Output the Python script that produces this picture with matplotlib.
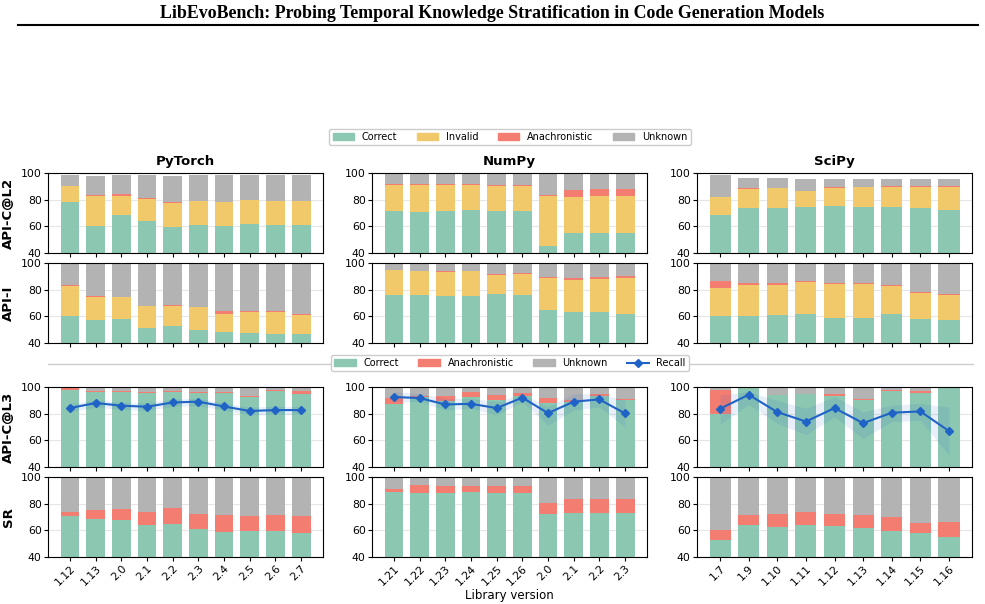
import numpy as np
import matplotlib
matplotlib.use("Agg")
import matplotlib.pyplot as plt
from matplotlib.lines import Line2D
from matplotlib.patches import Patch

libs = ["PyTorch", "NumPy", "SciPy"]
versions = {
    "PyTorch": ["1.12", "1.13", "2.0", "2.1", "2.2", "2.3", "2.4", "2.5", "2.6", "2.7"],
    "NumPy": ["1.21", "1.22", "1.23", "1.24", "1.25", "1.26", "2.0", "2.1", "2.2", "2.3"],
    "SciPy": ["1.7", "1.9", "1.10", "1.11", "1.12", "1.13", "1.14", "1.15", "1.16"],
}
row_names = ["API-C@L2", "API-I", "API-C@L3", "SR"]

# API-C@L2 : cumulative tops (correct, +invalid, +anachronistic, +unknown)
l2_correct = {
    "PyTorch": [78, 60, 68.2, 64.2, 59.2, 60.8, 60.2, 61.8, 60.8, 60.8],
    "NumPy": [71.2, 71, 71.8, 72, 71.8, 71.8, 45.5, 54.8, 54.8, 54.8],
    "SciPy": [68.2, 73.8, 73.8, 74.2, 75, 74.2, 74.2, 73.5, 72.5],
}
l2_invalid_top = {
    "PyTorch": [90, 82.5, 83, 80.2, 77.2, 78.8, 78.2, 79.5, 78.8, 78.8],
    "NumPy": [90.8, 90.8, 90.8, 91.2, 90.5, 90.5, 82.5, 82, 83, 83],
    "SciPy": [81.8, 87.8, 88.5, 86.2, 88.5, 89.2, 89.2, 89.2, 89.2],
}
l2_anach_top = {
    "PyTorch": [90.3, 83.8, 84, 81, 78, 79.3, 78.5, 79.8, 79.1, 79.1],
    "NumPy": [91.5, 91.5, 91.5, 91.8, 91, 91, 83.2, 87.5, 88, 88],
    "SciPy": [82.2, 88.5, 89, 86.8, 89.2, 89.8, 90, 90, 90],
}
l2_total = {
    "PyTorch": [98.8, 98, 98.8, 98.8, 98, 98.8, 98.8, 98.8, 98.8, 98.8],
    "NumPy": [100, 100, 100, 100, 100, 100, 100, 100, 100, 100],
    "SciPy": [98.8, 96.5, 96.5, 95.8, 95.8, 95.8, 95.8, 95.8, 95.8],
}

# API-I
ai_correct = {
    "PyTorch": [60, 57.5, 58.2, 51.5, 53, 50, 48.5, 47.8, 46.5, 46.5],
    "NumPy": [75.8, 75.8, 75, 75.5, 76.5, 75.8, 65, 63.5, 63, 61.8],
    "SciPy": [60.5, 60.5, 61.2, 61.5, 58.5, 59, 62, 58.2, 57],
}
ai_invalid_top = {
    "PyTorch": [83, 74.8, 74.2, 67.5, 67.5, 66.8, 62, 63.5, 63.5, 60.8],
    "NumPy": [94.5, 93.8, 93.5, 93.8, 91.2, 92, 89, 87.5, 88.2, 89],
    "SciPy": [81.5, 83.8, 83.8, 86, 84.5, 84.5, 83, 77.8, 75.8],
}
ai_anach_top = {
    "PyTorch": [83.8, 75.2, 74.8, 68, 68.2, 67.2, 64.2, 64, 64, 61.5],
    "NumPy": [95, 94.2, 94.2, 94.2, 92, 92.8, 89.8, 88.8, 89.8, 90],
    "SciPy": [86.2, 85.2, 85.2, 86.8, 85, 85, 83.8, 78.5, 76.5],
}

# API-C@L3 : correct, +anachronistic, +unknown (to 100) and recall with band
l3_correct = {
    "PyTorch": [97.8, 96.5, 96.5, 95.8, 96.5, 95.8, 95.8, 92.8, 97.2, 94.8],
    "NumPy": [87.2, 92.2, 89.5, 92.7, 90.2, 93.5, 88.2, 88.4, 93.5, 90.5],
    "SciPy": [79.6, 100, 94, 94.7, 93.5, 90.5, 97.2, 95.7, 99.8],
}
l3_anach_top = {
    "PyTorch": [99.2, 97.2, 96.8, 96, 97.2, 96, 96.5, 93, 97.5, 97],
    "NumPy": [92, 93.5, 93.2, 96, 94.2, 95.5, 91.5, 90.2, 94.5, 91],
    "SciPy": [97.5, 100, 94.2, 95, 95, 90.7, 97.5, 97, 99.8],
}
recall = {
    "PyTorch": [84.2, 88, 86, 85.2, 88.4, 89, 85.4, 82, 82.7, 82.7],
    "NumPy": [92.5, 91.7, 86.9, 87.4, 84.2, 92, 80.4, 89, 90.7, 80.2],
    "SciPy": [83.7, 94.2, 81.2, 74.1, 84.2, 72.9, 80.7, 81.7, 67],
}
recall_lo = {
    "PyTorch": [81.5, 85, 83, 82.5, 85.5, 86, 82.5, 79, 79.5, 79.5],
    "NumPy": [89, 89, 82.7, 84, 79, 89, 71.4, 82.7, 85, 70],
    "SciPy": [72, 87, 72.6, 64.3, 77.6, 61.3, 74, 75, 48.7],
}
recall_hi = {
    "PyTorch": [87, 90.5, 88.5, 88, 91, 91.5, 88, 85, 85.5, 85.5],
    "NumPy": [96.5, 95, 91.5, 91.5, 89, 95, 85.2, 95, 95, 90],
    "SciPy": [94, 96.5, 90, 84, 92.7, 81.4, 86.4, 87.7, 85],
}

# SR : correct, +anachronistic, +unknown (to 100)
sr_correct = {
    "PyTorch": [70.5, 68.5, 67.5, 63.8, 64.5, 60.8, 58.8, 59.5, 59.5, 57.8],
    "NumPy": [88.5, 88, 88, 88.5, 88, 88, 72, 72.8, 72.8, 72.8],
    "SciPy": [52.5, 63.8, 62.5, 63.8, 63, 61.5, 59.5, 58.2, 55],
}
sr_anach_top = {
    "PyTorch": [73.8, 75.5, 76.2, 73.8, 76.5, 72.2, 71.2, 70.8, 71.8, 70.8],
    "NumPy": [90.8, 93.8, 93.2, 93.2, 93, 93, 80.5, 83.5, 83.5, 83.5],
    "SciPy": [60, 71.8, 72, 73.5, 72, 71.2, 69.8, 65.8, 66],
}

c_correct = "#8cc7b1"
c_invalid = "#f1c96a"
c_anach = "#f47d72"
c_unknown = "#b3b3b3"
c_recall = "#1f63c6"

W, H = 985, 604
fig = plt.figure(figsize=(W / 100, H / 100), dpi=100)

fig.text(0.5, 1 - 13 / H,
         "LibEvoBench: Probing Temporal Knowledge Stratification in Code Generation Models",
         ha="center", va="center", fontsize=12.9, fontweight="bold",
         family="Liberation Serif")
fig.add_artist(Line2D([18 / W, 978 / W], [1 - 25 / H] * 2, color="black", lw=1.5))
fig.add_artist(Line2D([48 / W, 973 / W], [1 - 364 / H] * 2, color="#cccccc", lw=1))

lefts = [48, 372, 697]
tops = [173, 263, 387, 477]
bw = 0.74


def stack(ax, x, segs):
    bottom = np.zeros(len(x))
    for top, col in segs:
        top = np.asarray(top, dtype=float)
        ax.bar(x, top - bottom, bw, bottom=bottom, color=col, lw=0)
        bottom = top


for ci, lib in enumerate(libs):
    x = np.arange(len(versions[lib]))
    full = np.full(len(x), 100.0)
    for ri in range(4):
        ax = fig.add_axes([lefts[ci] / W, 1 - (tops[ri] + 80) / H, 275 / W, 80 / H])
        ax.set_axisbelow(True)
        ax.yaxis.grid(True, color="#e6e6e6", lw=0.8)
        if ri == 0:
            stack(ax, x, [(l2_correct[lib], c_correct), (l2_invalid_top[lib], c_invalid),
                          (l2_anach_top[lib], c_anach), (l2_total[lib], c_unknown)])
            ax.set_title(lib, fontsize=9.5, fontweight="bold", pad=6)
        elif ri == 1:
            stack(ax, x, [(ai_correct[lib], c_correct), (ai_invalid_top[lib], c_invalid),
                          (ai_anach_top[lib], c_anach), (full, c_unknown)])
        elif ri == 2:
            stack(ax, x, [(l3_correct[lib], c_correct), (l3_anach_top[lib], c_anach),
                          (full, c_unknown)])
            ax.fill_between(x, recall_lo[lib], recall_hi[lib], color=c_recall,
                            alpha=0.1, lw=0)
            ax.plot(x, recall[lib], color=c_recall, marker="D", ms=4, lw=1.5)
        else:
            stack(ax, x, [(sr_correct[lib], c_correct), (sr_anach_top[lib], c_anach),
                          (full, c_unknown)])
        ax.set_ylim(40, 100)
        ax.set_yticks([40, 60, 80, 100])
        ax.set_xticks(x)
        ax.tick_params(labelsize=7.8, length=3, pad=1.5)
        if ri == 3:
            ax.set_xticklabels(versions[lib], rotation=45, ha="right",
                               rotation_mode="anchor")
        else:
            ax.set_xticklabels([])
        if ci == 0:
            ax.set_ylabel(row_names[ri], fontsize=9.5, fontweight="bold", labelpad=4)
        if ri == 3 and ci == 1:
            ax.set_xlabel("Library version", fontsize=8.5, labelpad=1)

h1 = [Patch(color=c_correct, label="Correct"), Patch(color=c_invalid, label="Invalid"),
      Patch(color=c_anach, label="Anachronistic"), Patch(color=c_unknown, label="Unknown")]
fig.legend(handles=h1, loc="center", bbox_to_anchor=(510 / W, 1 - 137 / H), ncol=4,
           fontsize=7, frameon=True, framealpha=1, handlelength=2.2, columnspacing=2.0,
           borderpad=0.35)
h2 = [Patch(color=c_correct, label="Correct"), Patch(color=c_anach, label="Anachronistic"),
      Patch(color=c_unknown, label="Unknown"),
      Line2D([], [], color=c_recall, marker="D", ms=4, lw=1.5, label="Recall")]
fig.legend(handles=h2, loc="center", bbox_to_anchor=(510 / W, 1 - 363 / H), ncol=4,
           fontsize=7, frameon=True, framealpha=1, handlelength=2.2, columnspacing=2.0,
           borderpad=0.35)

fig.savefig("out.png", dpi=100)
